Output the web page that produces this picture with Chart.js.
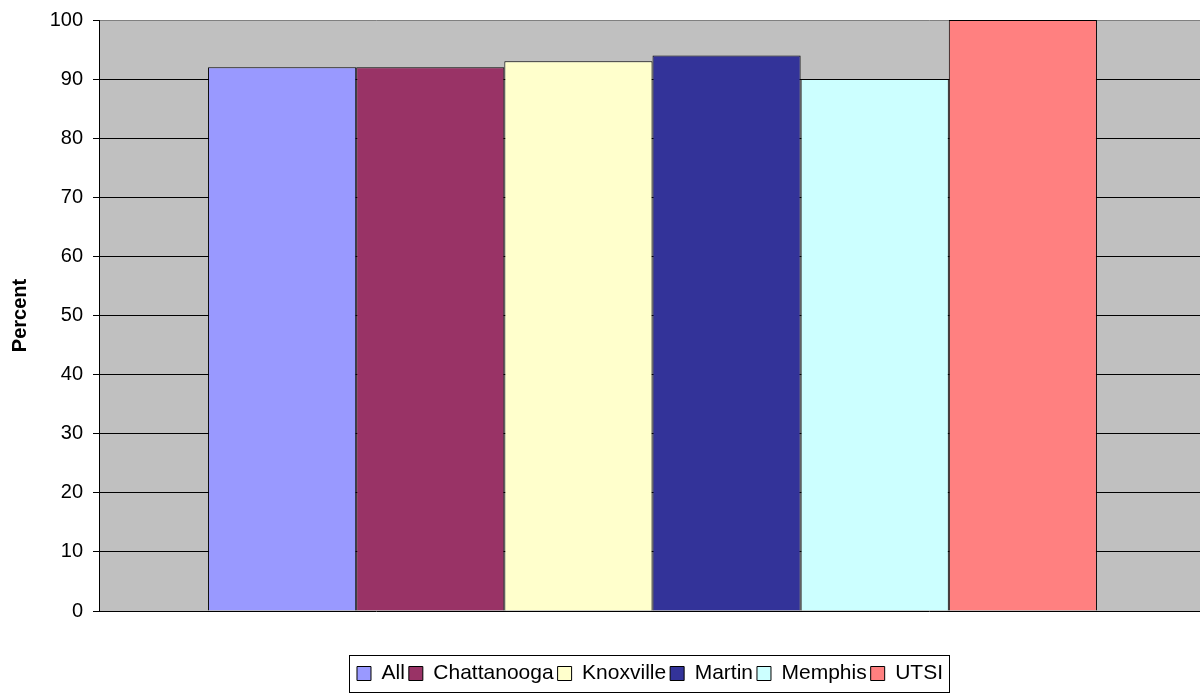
<!DOCTYPE html>
<html>
<head>
<meta charset="utf-8">
<script src="https://cdn.jsdelivr.net/npm/chart.js@4/dist/chart.umd.min.js"></script>
<style>
  html, body { margin: 0; padding: 0; background: #fff; overflow: hidden; }
  #wrap { width: 1206px; height: 694px; }
</style>
</head>
<body>
<div id="wrap"><canvas id="campus-chart"></canvas></div>
<script>
// campus results, percent
const campuses = ["All", "Chattanooga", "Knoxville", "Martin", "Memphis", "UTSI"];
const percents = [92, 92, 93, 94, 90, 100];
const colors = ["#9999FF", "#993366", "#FFFFCC", "#333399", "#CCFFFF", "#FF8080"];
const yTicks = [0, 10, 20, 30, 40, 50, 60, 70, 80, 90, 100];

Chart.defaults.font.family = "Arial, 'Liberation Sans', sans-serif";
Chart.defaults.color = "#000";

const LEGEND_SHIFT = 43;

// gray plot background
const plotBg = {
  id: "plotBg",
  beforeDraw(chart) {
    const { ctx, chartArea: a } = chart;
    ctx.save();
    ctx.fillStyle = "#C0C0C0";
    ctx.fillRect(a.left, a.top, a.right - a.left, a.bottom - a.top);
    ctx.restore();
  },
};

// nudge legend to sit under the plot centre, then frame it
const legendFrame = {
  id: "legendFrame",
  afterLayout(chart) {
    const lg = chart.legend;
    lg.left += LEGEND_SHIFT;
    lg.right += LEGEND_SHIFT;
  },
  afterDraw(chart) {
    const lg = chart.legend;
    const boxes = lg.legendHitBoxes;
    if (!boxes || !boxes.length) return;
    const pad = lg.options.labels.padding;
    const lw = lg.lineWidths[0];
    const start = (lg.left + pad + lg.right - lw) / 2;
    const left = start - 8;
    const right = start + lw - pad + 6;
    const top = Math.min(...boxes.map((b) => b.top)) - 8;
    const bottom = Math.max(...boxes.map((b) => b.top + b.height)) + 8;
    const ctx = chart.ctx;
    ctx.save();
    ctx.strokeStyle = "#000";
    ctx.lineWidth = 1;
    ctx.strokeRect(Math.round(left) + 0.5, Math.round(top) + 0.5, Math.round(right - left), Math.round(bottom - top));
    ctx.restore();
  },
};

const datasets = campuses.map((name, i) => ({
  label: name,
  data: [percents[i]],
  backgroundColor: colors[i],
  borderColor: "#000",
  borderWidth: 1,
  borderSkipped: "bottom",
  barPercentage: 1.0,
  categoryPercentage: 0.803,
}));

const config = {
  type: "bar",
  data: { labels: [""], datasets: datasets },
  options: {
    responsive: true,
    maintainAspectRatio: false,
    animation: false,
    layout: { padding: { left: 8, right: 0, top: 20, bottom: 0 } },
    scales: {
      x: {
        display: true,
        grid: { display: false },
        border: { display: false },
        ticks: { display: false },
        afterFit(scale) {
          scale.height = 48;
        },
      },
      y: {
        min: 0,
        max: 100,
        afterBuildTicks(scale) {
          scale.ticks = yTicks.map((v) => ({ value: v }));
        },
        afterFit(scale) {
          scale.width = 91;
          scale.paddingTop = 0;
          scale.paddingBottom = 0;
        },
        ticks: {
          font: { size: 20 },
          color: "#000",
          padding: 10,
        },
        grid: {
          color: (c) => (c.tick && c.tick.value === 100 ? "#808080" : "#000"),
          tickColor: "#000",
          tickLength: 6,
          lineWidth: 1,
        },
        border: { color: "#000", width: 1 },
        title: {
          display: true,
          text: "Percent",
          font: { size: 20, weight: "bold" },
          color: "#000",
          padding: 0,
        },
      },
    },
    plugins: {
      legend: {
        position: "bottom",
        labels: {
          font: { size: 21 },
          color: "#000",
          boxWidth: 14,
          boxHeight: 14,
          padding: 4,
          generateLabels(chart) {
            return chart.data.datasets.map((ds, i) => ({
              text: ds.label,
              fillStyle: ds.backgroundColor,
              strokeStyle: "#000",
              lineWidth: 1,
              datasetIndex: i,
              hidden: false,
            }));
          },
        },
      },
      tooltip: { enabled: false },
    },
  },
  plugins: [plotBg, legendFrame],
};

const myChart = new Chart(document.getElementById("campus-chart"), config);
</script>
</body>
</html>
